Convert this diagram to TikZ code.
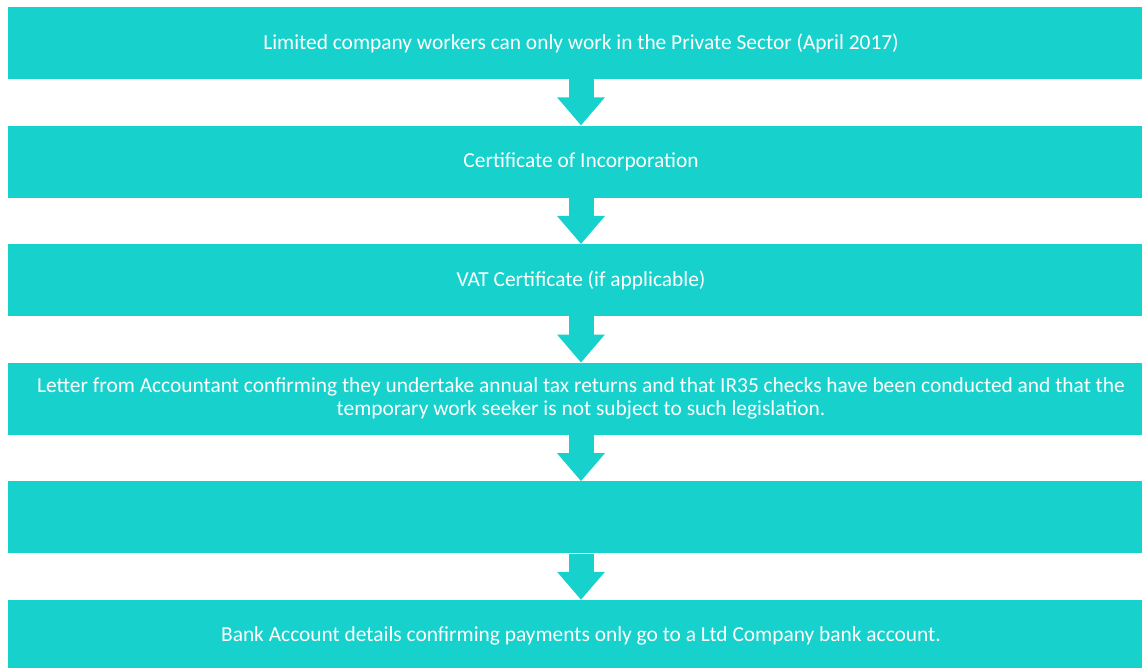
\documentclass[tikz,border=0pt]{standalone}
\usepackage{fontspec}
\setmainfont{Carlito}
\usepackage{tikz}
\usetikzlibrary{arrows.meta}
\definecolor{tealbox}{RGB}{22,209,204}
\tikzstyle{stepbox} = [rectangle, minimum width=1147pt, minimum height=72pt, text centered, fill=tealbox, text=white, font=\fontsize{21.4pt}{23pt}\selectfont, align=center]
\tikzstyle{blockarrow} = [draw=tealbox, line width=25pt, -{Triangle[width=46pt,length=28pt]}]

\begin{document}
\begin{tikzpicture}[node distance=118.6pt]
\useasboundingbox (0pt,0pt) rectangle (1142pt,-668pt);

\node (private) [stepbox] at (581pt,-43pt) {Limited company workers can only work in the Private Sector (April 2017)};
\node (incorp) [stepbox, below of=private] {Certificate of Incorporation};
\node (vat) [stepbox, below of=incorp] {VAT Certificate (if applicable)};
\node (letter) [stepbox, below of=vat] {Letter from Accountant confirming they undertake annual tax returns and that IR35 checks have been conducted and that the\\temporary work seeker is not subject to such legislation.};
\node (blank) [stepbox, below of=letter] {};
\node (bank) [stepbox, below of=blank] {Bank Account details confirming payments only go to a Ltd Company bank account.};

\draw [blockarrow] (private) -- (incorp);
\draw [blockarrow] (incorp) -- (vat);
\draw [blockarrow] (vat) -- (letter);
\draw [blockarrow] (letter) -- (blank);
\draw [blockarrow] (blank) -- (bank);

\end{tikzpicture}
\end{document}
